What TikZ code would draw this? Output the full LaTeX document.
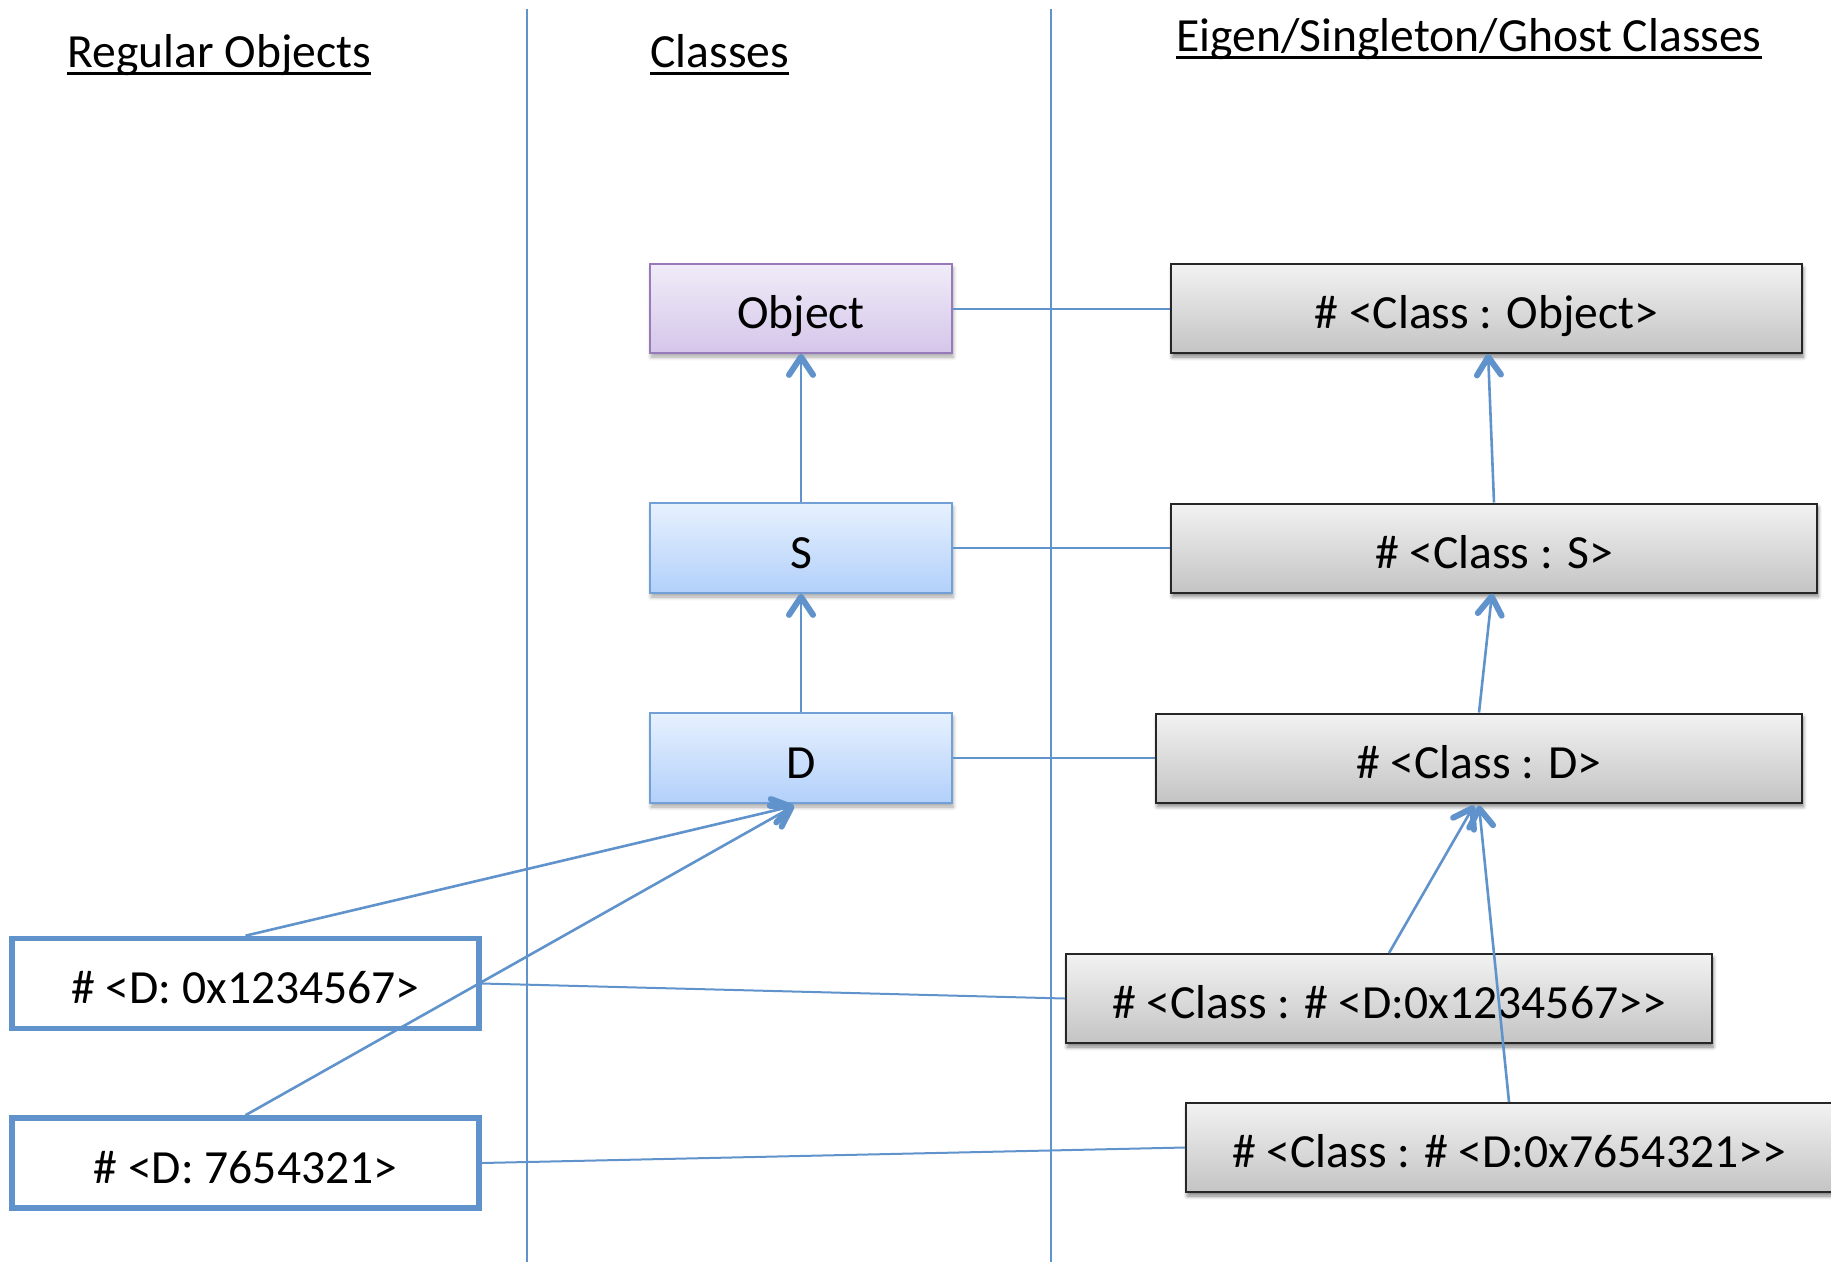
\documentclass[tikz,border=0pt]{standalone}
\usepackage{fontspec}
\setmainfont{Carlito}
\usetikzlibrary{arrows.meta,shadows.blur}

\definecolor{linkblue}{RGB}{96,146,203}
\definecolor{objborder}{RGB}{150,122,186}
\definecolor{objtop}{RGB}{240,236,248}
\definecolor{objbot}{RGB}{213,198,234}
\definecolor{clsborder}{RGB}{112,160,214}
\definecolor{clstop}{RGB}{231,241,254}
\definecolor{clsbot}{RGB}{178,208,250}
\definecolor{eigtop}{RGB}{242,242,242}
\definecolor{eigbot}{RGB}{196,196,196}

\tikzset{
  lbl/.style={font=\fontsize{23.8}{28}\selectfont, text height=20pt, text depth=0pt, inner sep=0pt},
  boxshadow/.style={blur shadow={shadow xshift=0.6pt, shadow yshift=-2pt, shadow blur steps=6, shadow opacity=#1}},
  objbox/.style={lbl, draw=objborder, line width=0.9pt, top color=objtop, bottom color=objbot,
    minimum width=151pt, minimum height=44.5pt, boxshadow=35},
  clsbox/.style={lbl, draw=clsborder, line width=0.9pt, top color=clstop, bottom color=clsbot,
    minimum width=151pt, minimum height=45pt, boxshadow=35},
  eigbox/.style={lbl, draw=black!85, line width=1pt, top color=eigtop, bottom color=eigbot,
    minimum height=44.5pt, boxshadow=50},
  regbox/.style={lbl, draw=linkblue, line width=2.8pt, fill=white,
    minimum width=233.5pt, minimum height=45pt},
  heading/.style={font=\fontsize{23.8}{28}\selectfont, inner sep=0pt, anchor=base west},
  divider/.style={draw=linkblue, line width=1pt},
  link/.style={draw=linkblue, line width=1pt},
  inherit/.style={draw=linkblue, line width=1.3pt,
    -{Straight Barb[length=9pt, width=12pt, line width=3pt, round]}},
}

\begin{document}
\begin{tikzpicture}[x=0.5pt, y=-0.5pt]
  \useasboundingbox (0,0) rectangle (1831,1264);

  % column dividers
  \coordinate (d1top) at (527,9);
  \coordinate (d1bot) at (527,1262);
  \coordinate (d2top) at (1051,9);
  \coordinate (d2bot) at (1051,1262);
  \draw[divider] (d1top) -- (d1bot);
  \draw[divider] (d2top) -- (d2bot);

  % column headings, underlined through the descenders
  \node[heading] (h1) at (67,67) {Regular Objects};
  \node[heading] (h2) at (650,67) {Classes};
  \node[heading] (h3) at (1176,51) {Eigen/Singleton/Ghost Classes};
  \foreach \h in {h1,h2,h3}
    \draw[line width=1.5pt] ([yshift=-3pt]\h.base west) -- ([yshift=-3pt]\h.base east);

  % class hierarchy
  \node[objbox] (obj) at (801,308.5) {Object};
  \node[clsbox] (s) at (801,548) {S};
  \node[clsbox] (d) at (801,758) {D};

  % eigenclasses
  \node[eigbox, minimum width=315.5pt] (cobj) at (1486.5,308.5) {\# <Class : Object>};
  \node[eigbox, minimum width=323pt] (cs) at (1494,548) {\# <Class : S>};
  \node[eigbox, minimum width=323pt] (cd) at (1479,758) {\# <Class : D>};
  \node[eigbox, minimum width=323pt] (c1) at (1389,998.5) {\# <Class : \# <D:0x1234567>{}>};
  \node[eigbox, minimum width=323pt] (c2) at (1509,1147.5) {\# <Class : \# <D:0x7654321>{}>};

  % regular objects
  \node[regbox] (r1) at (245.5,983.5) {\# <D: 0x1234567>};
  \node[regbox] (r2) at (245.5,1163) {\# <D: 7654321>};

  % class to eigenclass links
  \draw[link] (obj.east) -- (cobj.west);
  \draw[link] (s.east) -- (cs.west);
  \draw[link] (d.east) -- (cd.west);
  \draw[link] (r1.east) -- (c1.west);
  \draw[link] (r2.east) -- (c2.west);

  % superclass / class-of arrows
  \draw[inherit] (s.north) -- (obj.south);
  \draw[inherit] (d.north) -- (s.south);
  \draw[inherit] (r1.north) -- ([xshift=-3.5pt,yshift=-1pt]d.south);
  \draw[inherit] (r2.north) -- ([xshift=-3.5pt,yshift=-1pt]d.south);
  \draw[inherit] (cs.north) -- ([xshift=0.8pt]cobj.south);
  \draw[inherit] (cd.north) -- ([xshift=-1pt]cs.south);
  \draw[inherit] (c1.north) -- ([xshift=-2.5pt,yshift=-1pt]cd.south);
  \draw[inherit] (c2.north) -- ([yshift=-1pt]cd.south);
\end{tikzpicture}
\end{document}
